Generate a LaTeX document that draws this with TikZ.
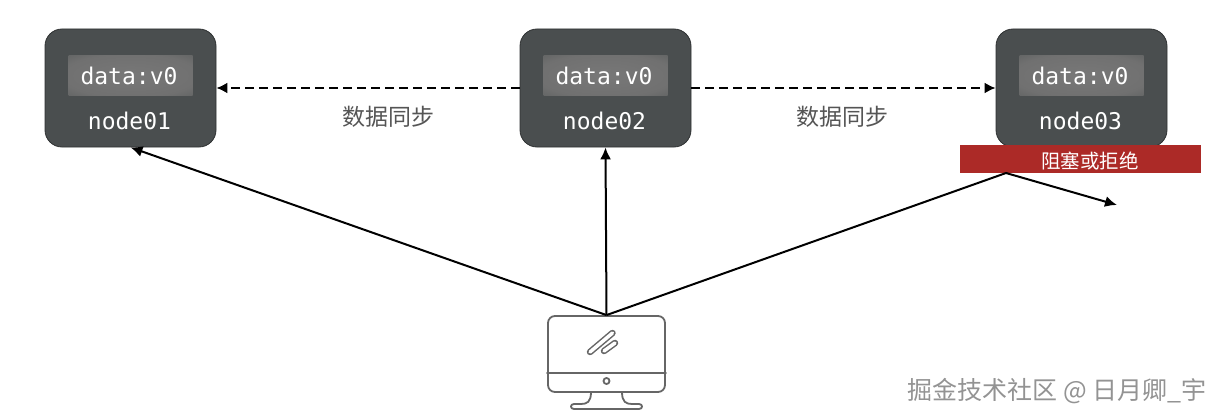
\documentclass[tikz,border=0pt]{standalone}
\usepackage{fontspec}
\setmonofont{DejaVu Sans Mono}
\newfontfamily\cjk{Noto Sans CJK SC}
\usetikzlibrary{arrows.meta}

\definecolor{boxgray}{HTML}{4A4E4F}
\definecolor{boxedge}{HTML}{2E3132}
\definecolor{blockred}{HTML}{AC2A27}
\definecolor{labelgray}{HTML}{555555}
\definecolor{iconline}{HTML}{666666}

\pgfdeclareradialshading{slotglow}{\pgfpoint{0bp}{0bp}}{
    rgb(0bp)=(0.47,0.47,0.47);
    rgb(28bp)=(0.44,0.44,0.44);
    rgb(42bp)=(0.36,0.37,0.37);
    rgb(50bp)=(0.27,0.29,0.29)}

\tikzset{
    redisbox/.style={draw=boxedge, line width=0.8pt, fill=boxgray, rounded corners=17pt,
        minimum width=171pt, minimum height=118pt, inner sep=0pt},
    dataslot/.style={shading=slotglow, minimum width=124pt, minimum height=39pt, inner sep=0pt},
    nodetext/.style={text=white, inner sep=0pt, font=\ttfamily\fontsize{23}{27}\selectfont},
    synclabel/.style={text=labelgray, inner sep=0pt, font=\cjk\fontsize{23}{27}\selectfont},
    syncline/.style={dash pattern=on 9pt off 5pt, line width=2pt, -{Latex[length=11pt,width=11pt]}},
    writeline/.style={line width=2pt, -{Latex[length=12pt,width=11pt]}},
    iconpart/.style={draw=iconline, line width=1.8pt, line cap=round},
}

\begin{document}
\begin{tikzpicture}[x=1pt,y=-1pt]
    \useasboundingbox (0,0) rectangle (1221,420);

    \foreach \i/\x in {01/130.5,02/605.5,03/1081.5}{
        \node[redisbox] (node\i) at (\x,88) {};
        \node[dataslot] (slot\i) at (\x,75.5) {};
        \node[nodetext] (data\i) at (\x-1.5,75.5) {data:v0};
        \node[nodetext] (name\i) at (\x-1,121) {node\i};
    }

    \node[fill=blockred, minimum width=241pt, minimum height=28pt, inner sep=0pt] (blockbar) at (1080.5,159) {};
    \node[text=white, inner sep=0pt, font=\cjk\fontsize{19.5}{23}\selectfont] (blocktext) at (1090,161) {阻塞或拒绝};

    \draw[syncline] (node02.west) -- (node01.east);
    \draw[syncline] (node02.east) -- (node03.west);
    \node[synclabel] (sync01) at (388,117) {数据同步};
    \node[synclabel] (sync02) at (842,117) {数据同步};

    % monitor
    \node[iconpart, rounded corners=7pt, minimum width=117pt, minimum height=76pt, inner sep=0pt] (monitor) at (606.5,354) {};
    \draw[iconpart] (monitor.west |- 0,373) -- (monitor.east |- 0,373);
    \draw[iconpart] (606.5,381) circle [radius=3];
    \draw[iconpart, line width=1.5pt, double=white, double distance=3.5pt] (590,352) -- (612.5,333);
    \draw[iconpart, line width=1.5pt, double=white, double distance=3.5pt] (604,351) -- (615,343);
    \draw[iconpart] (591,392) .. controls (591,402) and (587,404) .. (581,404) -- (574,404)
        .. controls (570,404) and (570,409) .. (574,409) -- (639,409)
        .. controls (643,409) and (643,404) .. (639,404) -- (632,404)
        .. controls (626,404) and (622,402) .. (622,392);

    \coordinate (blockhit) at (1006,173);
    \coordinate (reject) at (1117,205);
    \draw[writeline] (monitor.north) -- (node01.south);
    \draw[writeline] (monitor.north) -- (node02.south);
    \draw[line width=2pt] (monitor.north) -- (blockhit);
    \draw[writeline] (blockhit) -- (reject);

    \node[text=gray!85, inner sep=0pt, anchor=east, font=\cjk\fontsize{25}{29}\selectfont] (mark) at (1207,391) {掘金技术社区 @ 日月卿\_宇};
\end{tikzpicture}
\end{document}
